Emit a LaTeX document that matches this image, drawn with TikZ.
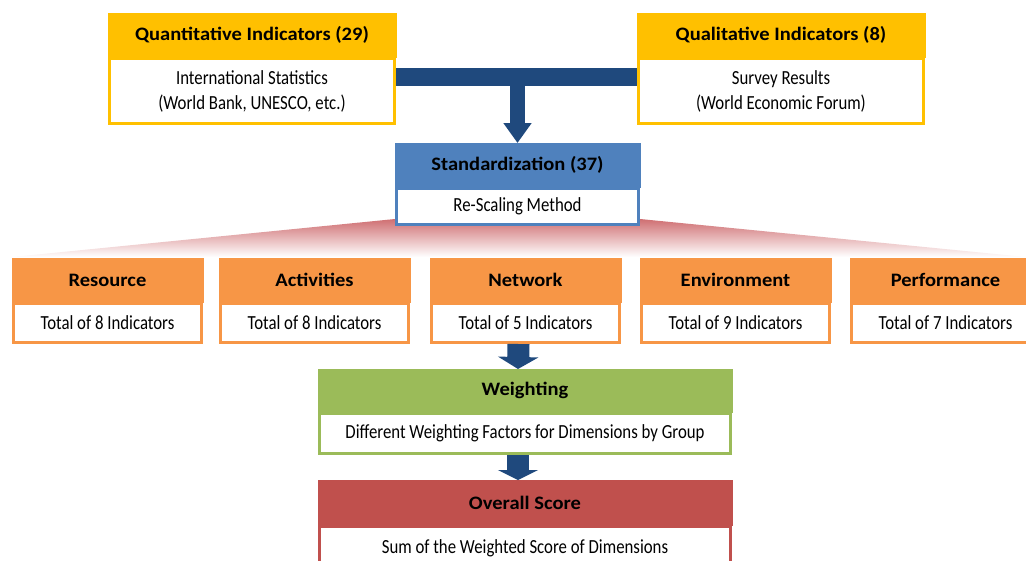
\documentclass[tikz,border=0pt]{standalone}
\usepackage{fontspec}
\setmainfont{Carlito}
\newfontfamily\headfont{Carlito}[FakeStretch=1.08]
\newfontfamily\bodyfont{Carlito}[FakeStretch=0.84]
\usepackage{tikz}
\usetikzlibrary{
    arrows.meta,
    positioning,
    backgrounds
}
\definecolor{idxyellow}{HTML}{FFC000}
\definecolor{idxblue}{HTML}{4F81BD}
\definecolor{idxorange}{HTML}{F79646}
\definecolor{idxgreen}{HTML}{9BBB59}
\definecolor{idxred}{HTML}{C0504D}
\definecolor{idxnavy}{HTML}{1F497D}
\definecolor{idxfan}{HTML}{CF6F72}
\tikzset{
    % Coloured title strip
    headbox/.style={
        rectangle,
        draw=#1,
        fill=#1,
        line width=1pt,
        text=black,
        font=\headfont\fontsize{19}{22}\selectfont\bfseries,
        minimum height=44pt,
        inner sep=0pt,
        outer sep=0pt
    },
    headbox/.default=idxyellow,
    % White content part with coloured frame
    bodybox/.style={
        rectangle,
        draw=#1,
        fill=white,
        line width=3pt,
        text=black,
        font=\bodyfont\fontsize{20}{25}\selectfont,
        align=center,
        inner sep=0pt
    },
    bodybox/.default=idxyellow,
    % Thick block arrow
    blockarrow/.style={
        -{Triangle[width=#1,length=20pt]},
        line width=15pt,
        draw=idxnavy
    },
    blockarrow/.default=27pt
}
\begin{document}
\begin{tikzpicture}[x=1pt, y=-1pt]

    \useasboundingbox (0,0) rectangle (1026,560);

    % Source boxes
    \node[headbox=idxyellow, minimum width=288pt] (quanthead) at (252,35) {Quantitative Indicators (29)};
    \node[bodybox=idxyellow, minimum width=285pt, minimum height=65pt, below=0pt of quanthead] (quantbody) {International Statistics\\(World Bank, UNESCO, etc.)};

    \node[headbox=idxyellow, minimum width=288pt] (qualhead) at (781,35) {Qualitative Indicators (8)};
    \node[bodybox=idxyellow, minimum width=285pt, minimum height=65pt, below=0pt of qualhead] (qualbody) {Survey Results\\(World Economic Forum)};

    % Standardization
    \node[headbox=idxblue, minimum width=245pt] (stdhead) at (517.5,165) {Standardization (37)};
    \node[bodybox=idxblue, minimum width=242pt, minimum height=36pt, below=0pt of stdhead] (stdbody) {Re-Scaling Method};

    % Dimension boxes
    \node[headbox=idxorange, minimum width=191pt] (reshead) at (107.5,280) {Resource};
    \node[bodybox=idxorange, minimum width=188pt, minimum height=39pt, below=0pt of reshead] (resbody) {Total of 8 Indicators};

    \node[headbox=idxorange, minimum width=191pt] (acthead) at (314.5,280) {Activities};
    \node[bodybox=idxorange, minimum width=188pt, minimum height=39pt, below=0pt of acthead] (actbody) {Total of 8 Indicators};

    \node[headbox=idxorange, minimum width=191pt] (nethead) at (525.5,280) {Network};
    \node[bodybox=idxorange, minimum width=188pt, minimum height=39pt, below=0pt of nethead] (netbody) {Total of 5 Indicators};

    \node[headbox=idxorange, minimum width=191pt] (envhead) at (735.5,280) {Environment};
    \node[bodybox=idxorange, minimum width=188pt, minimum height=39pt, below=0pt of envhead] (envbody) {Total of 9 Indicators};

    \node[headbox=idxorange, minimum width=191pt] (perfhead) at (945.5,280) {Performance};
    \node[bodybox=idxorange, minimum width=188pt, minimum height=39pt, below=0pt of perfhead] (perfbody) {Total of 7 Indicators};

    % Weighting and score
    \node[headbox=idxgreen, minimum width=414pt, minimum height=43pt] (wghead) at (525,390.5) {Weighting};
    \node[bodybox=idxgreen, minimum width=411pt, minimum height=40pt, below=0pt of wghead] (wgbody) {Different Weighting Factors for Dimensions by Group};

    \node[headbox=idxred, minimum width=414pt, minimum height=45pt] (scorehead) at (525,502.5) {Overall Score};
    \node[bodybox=idxred, minimum width=411pt, minimum height=44pt, below=0pt of scorehead] (scorebody) {Sum of the Weighted Score of Dimensions};

    % Fan from standardization to dimensions
    \begin{scope}[on background layer]
        \shade[top color=idxfan, bottom color=white] ([yshift=7pt]stdbody.south west) -- (12,257) -- (1026,257) -- ([yshift=7pt]stdbody.south east) -- cycle;
    \end{scope}

    % Connectors
    \draw[idxnavy, line width=18pt] (quantbody.east |- 0,77) -- (qualbody.west |- 0,77);
    \draw[blockarrow] (stdhead.north |- 0,77) -- (stdhead.north);
    \draw[blockarrow=40pt, line width=22pt, -{Triangle[width=40pt,length=12pt]}] ([xshift=-7pt]netbody.south) -- ([xshift=-7pt]wghead.north);
    \draw[blockarrow=40pt, line width=22pt, -{Triangle[width=40pt,length=10pt]}] ([xshift=-7pt]wgbody.south) -- ([xshift=-7pt]scorehead.north);

\end{tikzpicture}
\end{document}
